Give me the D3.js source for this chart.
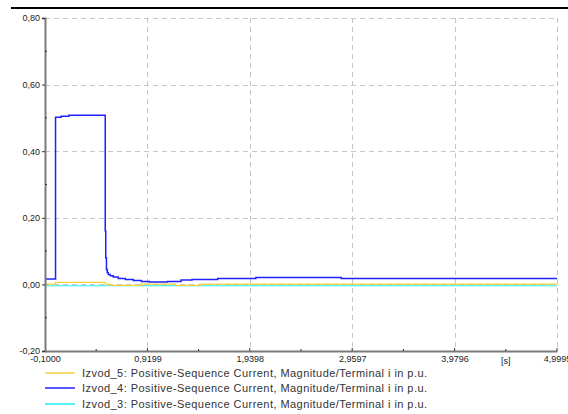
<!DOCTYPE html>
<html>
<head>
<meta charset="utf-8">
<script src="https://cdn.jsdelivr.net/npm/d3@7/dist/d3.min.js"></script>
<style>
  html, body { margin: 0; padding: 0; background: #fff; }
  svg { display: block; }
  text { font-family: "Liberation Sans", Arial, sans-serif; }
</style>
</head>
<body>
<svg id="chart" width="568" height="414"></svg>
<script>
// Time axis ticks [s] and value axis ticks [p.u.]
const xTicks = [-0.1, 0.9199, 1.9398, 2.9597, 3.9796, 4.9995];
const xTickLabels = ["-0,1000", "0,9199", "1,9398", "2,9597", "3,9796", "4,9995"];
const yTicks = [-0.2, 0.0, 0.2, 0.4, 0.6, 0.8];
const yTickLabels = ["-0,20", "0,00", "0,20", "0,40", "0,60", "0,80"];

// Positive-sequence current magnitude, [time s, value p.u.], held between samples
const izvod5 = [
  [-0.1, 0.001], [0.005, 0.006], [0.5, 0.001], [0.55, -0.003], [0.85, 0.001],
  [1.2, -0.003], [1.45, 0.001], [4.9995, 0.001]
];
const izvod4 = [
  [-0.1, 0.016], [0.005, 0.502], [0.06, 0.505], [0.14, 0.508], [0.5, 0.16],
  [0.505, 0.08], [0.512, 0.045], [0.52, 0.036], [0.53, 0.03], [0.55, 0.026],
  [0.58, 0.022], [0.63, 0.018], [0.7, 0.015], [0.78, 0.012], [0.86, 0.009],
  [0.94, 0.007], [1.12, 0.009], [1.255, 0.013], [1.364, 0.015], [1.62, 0.018],
  [2.0, 0.021], [2.85, 0.018], [4.9995, 0.018]
];
const izvod3 = [
  [-0.1, -0.004], [0.5, -0.004], [4.9995, -0.004]
];

const seriesNames = [
  "Izvod_5: Positive-Sequence Current, Magnitude/Terminal i in p.u.",
  "Izvod_4: Positive-Sequence Current, Magnitude/Terminal i in p.u.",
  "Izvod_3: Positive-Sequence Current, Magnitude/Terminal i in p.u."
];
const seriesData = [izvod5, izvod4, izvod3];
const seriesColors = ["#f7d23a", "#2020ff", "#22eef5"];

const svg = d3.select("#chart");
const plotLeft = 45, plotRight = 557, plotTop = 18, plotBottom = 351;

const x = d3.scaleLinear().domain([-0.1, 4.9995]).range([plotLeft, plotRight]);
const y = d3.scaleLinear().domain([-0.2, 0.8]).range([plotBottom, plotTop]);

// Header rule
svg.append("line")
  .attr("x1", 11).attr("x2", 568).attr("y1", 8).attr("y2", 8)
  .attr("stroke", "#000").attr("stroke-width", 2);

// Dashed grid
const grid = svg.append("g").attr("stroke", "#c6c6c6").attr("stroke-width", 1)
  .attr("stroke-dasharray", "5,4").attr("fill", "none");
yTicks.filter(v => v > -0.2).forEach(v => {
  grid.append("line").attr("x1", plotLeft).attr("x2", plotRight)
    .attr("y1", Math.round(y(v)) + 0.5).attr("y2", Math.round(y(v)) + 0.5);
});
xTicks.filter(v => v > -0.1).forEach(v => {
  grid.append("line").attr("y1", plotTop).attr("y2", plotBottom)
    .attr("x1", Math.round(x(v)) + 0.5).attr("x2", Math.round(x(v)) + 0.5);
});

// Series: cyan first, yellow over it, blue on top
const line = d3.line()
  .x(d => x(d[0]))
  .y(d => y(d[1]))
  .curve(d3.curveStepAfter);

const plot = svg.append("g");
[2, 0, 1].forEach(i => {
  plot.append("path")
    .datum(seriesData[i])
    .attr("d", line)
    .attr("fill", "none")
    .attr("stroke", seriesColors[i])
    .attr("stroke-width", i === 1 ? 1.5 : 1.2);
});

// Axes
const yAxis = d3.axisLeft(y)
  .tickValues(yTicks)
  .tickFormat((d, i) => yTickLabels[i])
  .tickSize(3)
  .tickPadding(2);
const gy = svg.append("g").attr("transform", `translate(${plotLeft},0)`).call(yAxis);
gy.select(".domain").attr("stroke", "#7a7a7a").attr("stroke-width", 2);
gy.selectAll(".tick line").attr("stroke", "#333");
gy.selectAll(".tick text").attr("font-size", 9).attr("fill", "#222")
  .attr("font-family", "Liberation Sans, Arial, sans-serif");

const yMinor = d3.range(-0.1, 0.8, 0.2);
svg.append("g").selectAll("line").data(yMinor).join("line")
  .attr("x1", plotLeft).attr("x2", plotLeft + 2)
  .attr("y1", d => y(d)).attr("y2", d => y(d))
  .attr("stroke", "#333");

const xAxis = d3.axisBottom(x)
  .tickValues(xTicks)
  .tickFormat((d, i) => xTickLabels[i])
  .tickSize(0)
  .tickPadding(5);
const gx = svg.append("g").attr("transform", `translate(0,${plotBottom})`).call(xAxis);
gx.select(".domain").attr("stroke", "#7a7a7a").attr("stroke-width", 2);
gx.selectAll(".tick text").attr("font-size", 9).attr("fill", "#222")
  .attr("font-family", "Liberation Sans, Arial, sans-serif");

// upward tick marks on the time axis, major and half-step minor
const xMajorMarks = xTicks.filter(v => v > -0.1);
svg.append("g").selectAll("line").data(xMajorMarks).join("line")
  .attr("x1", d => x(d)).attr("x2", d => x(d))
  .attr("y1", plotBottom - 3).attr("y2", plotBottom)
  .attr("stroke", "#333");
const xMinor = xTicks.slice(0, -1).map((v, i) => (v + xTicks[i + 1]) / 2);
svg.append("g").selectAll("line").data(xMinor).join("line")
  .attr("x1", d => x(d)).attr("x2", d => x(d))
  .attr("y1", plotBottom - 2).attr("y2", plotBottom)
  .attr("stroke", "#333");

// unit label
svg.append("text")
  .attr("x", x(xMinor[xMinor.length - 1]))
  .attr("y", plotBottom + 13)
  .attr("text-anchor", "middle")
  .attr("font-size", 9).attr("fill", "#222")
  .text("[s]");

// Legend
const legend = svg.append("g");
const legendY = [373, 388, 404];
seriesNames.forEach((name, i) => {
  legend.append("line")
    .attr("x1", 45).attr("x2", 75)
    .attr("y1", legendY[i]).attr("y2", legendY[i])
    .attr("stroke", seriesColors[i]).attr("stroke-width", 1.5);
  legend.append("text")
    .attr("x", 82).attr("y", legendY[i] + 4)
    .attr("font-size", 11).attr("fill", "#333")
    .attr("letter-spacing", "0.45px")
    .text(name);
});
</script>
</body>
</html>
